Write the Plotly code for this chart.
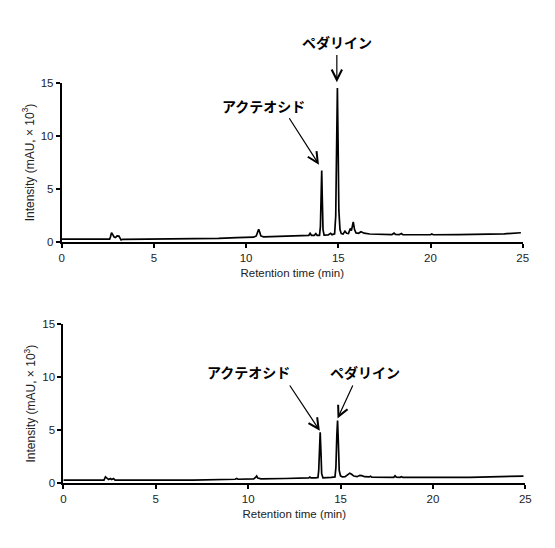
import plotly.graph_objects as go

# ---- Data ----
time_top = [0.0, 2.60, 2.65, 2.70, 2.76, 2.84, 2.92, 3.00, 3.10, 3.16, 3.22, 3.30, 5.00, 7.00, 8.50,
            9.50, 10.40, 10.55, 10.62, 10.68, 10.74, 10.80, 10.95, 12.00, 13.00, 13.40, 13.47,
            13.54, 13.70, 13.78, 13.85, 13.98, 14.03, 14.07, 14.10, 14.13, 14.17, 14.23, 14.45,
            14.58, 14.66, 14.80, 14.86, 14.90, 14.95, 14.99, 15.03, 15.09, 15.16, 15.26, 15.36,
            15.45, 15.55, 15.65, 15.71, 15.81, 15.88, 15.96, 16.10, 16.23, 16.40, 16.70, 17.20,
            17.90, 18.02, 18.10, 18.30, 18.42, 18.50, 19.00, 20.00, 20.07, 20.15, 21.50, 23.00,
            24.00, 24.90]
intensity_top = [0.30, 0.30, 0.55, 0.90, 0.75, 0.50, 0.45, 0.60, 0.58, 0.30, 0.22, 0.28, 0.30, 0.32, 0.38,
                 0.44, 0.48, 0.60, 1.00, 1.22, 0.95, 0.60, 0.52, 0.58, 0.64, 0.66, 0.85,
                 0.66, 0.66, 0.82, 0.66, 0.66, 1.50, 4.50, 6.75, 4.20, 1.20, 0.68, 0.70,
                 0.85, 0.72, 0.80, 2.50, 8.00, 14.50, 9.00, 3.00, 1.20, 0.82, 0.78, 1.05,
                 0.85, 0.82, 1.30, 1.10, 1.92, 1.20, 0.88, 0.85, 1.00, 0.86, 0.78, 0.74,
                 0.72, 0.86, 0.74, 0.72, 0.82, 0.72, 0.71, 0.71, 0.78, 0.71, 0.73, 0.77,
                 0.80, 0.90]

time_bottom = [0.0, 2.20, 2.28, 2.36, 2.45, 2.55, 2.62, 2.72, 2.80, 5.00, 7.00, 9.30, 9.38, 9.46,
               10.30, 10.40, 10.46, 10.52, 10.70, 12.00, 12.80, 13.28, 13.34, 13.40, 13.65, 13.78,
               13.82, 13.86, 13.90, 13.94, 13.98, 14.05, 14.35, 14.50, 14.70, 14.75, 14.80, 14.84,
               14.88, 14.93, 15.00, 15.10, 15.25, 15.40, 15.50, 15.60, 15.72, 15.90, 16.05, 16.15,
               16.30, 16.55, 16.62, 16.70, 17.50, 17.88, 17.95, 18.02, 18.22, 18.30, 18.38, 20.00,
               20.08, 20.15, 22.00, 23.50, 24.90]
intensity_bottom = [0.30, 0.30, 0.60, 0.50, 0.35, 0.45, 0.35, 0.45, 0.30, 0.30, 0.30, 0.38, 0.45, 0.38,
                    0.42, 0.55, 0.68, 0.50, 0.42, 0.45, 0.48, 0.50, 0.58, 0.50, 0.50, 0.55,
                    1.20, 3.50, 4.80, 3.00, 0.90, 0.52, 0.50, 0.55, 0.60, 1.50, 4.50, 5.90,
                    4.00, 1.20, 0.70, 0.60, 0.62, 0.85, 0.95, 0.85, 0.68, 0.62, 0.75, 0.72,
                    0.62, 0.60, 0.66, 0.58, 0.56, 0.56, 0.70, 0.58, 0.56, 0.62, 0.55, 0.56,
                    0.62, 0.56, 0.56, 0.60, 0.68]

x_ticks = [0, 5, 10, 15, 20, 25]
y_ticks = [0, 5, 10, 15]
label_acteoside = "アクテオシド"
label_pedaliin = "ペダリイン"
x_title = "Retention time (min)"
y_title = "Intensity (mAU, × 10<sup>3</sup>)"

Y_MAX = 15
X_MAX = 25

# ---- Figure ----
fig = go.Figure()
fig.add_trace(go.Scatter(x=time_top, y=intensity_top, mode="lines",
                         line=dict(color="black", width=1.7), xaxis="x", yaxis="y",
                         showlegend=False, hoverinfo="skip"))
fig.add_trace(go.Scatter(x=time_bottom, y=intensity_bottom, mode="lines",
                         line=dict(color="black", width=1.7), xaxis="x2", yaxis="y2",
                         showlegend=False, hoverinfo="skip"))

tickfont = dict(family="Liberation Sans, Arial, sans-serif", size=11.5, color="#222")
xtitlefont = dict(family="Liberation Sans, Arial, sans-serif", size=11.5, color="#222")
ytitlefont = dict(family="Liberation Sans, Arial, sans-serif", size=12, color="#222")

def xaxis(domain, anchor):
    return dict(domain=domain, anchor=anchor, range=[0, X_MAX], tickvals=x_ticks,
                showline=True, linecolor="black", linewidth=1.8, ticks="outside",
                ticklen=4, tickwidth=1.5, tickcolor="black", showgrid=False, zeroline=False,
                automargin=False,
                tickfont=tickfont, title=dict(text=x_title, font=xtitlefont, standoff=6))

def yaxis(domain, anchor):
    return dict(domain=domain, anchor=anchor, range=[0, Y_MAX], tickvals=y_ticks,
                showline=True, linecolor="black", linewidth=1.8, ticks="outside",
                ticklen=4, tickwidth=1.5, tickcolor="black", showgrid=False, zeroline=False,
                automargin=False,
                tickfont=tickfont, title=dict(text=y_title, font=ytitlefont, standoff=4))

jp_font = dict(family="Noto Sans CJK JP", size=14, color="black")
arrow_common = dict(showarrow=True, arrowhead=5, arrowsize=1.7, arrowwidth=1.2,
                    arrowcolor="black", text="", standoff=0, startstandoff=0,
                    xanchor="center", yanchor="middle")
label_common = dict(showarrow=False, font=jp_font, xanchor="center", yanchor="middle")

def dom(v, vmax):
    # data value -> axis-domain fraction (lets labels sit above the plotted range)
    return v / vmax

annotations = [
    # top panel
    dict(x=dom(14.93, X_MAX), y=dom(18.8, Y_MAX), xref="x domain", yref="y domain",
         text="<b>" + label_pedaliin + "</b>", **label_common),
    dict(x=dom(14.92, X_MAX), y=dom(15.05, Y_MAX), ax=dom(14.92, X_MAX), ay=dom(17.75, Y_MAX),
         xref="x domain", yref="y domain", axref="x domain", ayref="y domain", **arrow_common),
    dict(x=10.92, y=12.78, xref="x", yref="y", text="<b>" + label_acteoside + "</b>",
         **label_common),
    dict(x=13.95, y=7.3, ax=12.29, ay=11.8, xref="x", yref="y", axref="x", ayref="y",
         **arrow_common),
    # bottom panel
    dict(x=10.0, y=10.48, xref="x2", yref="y2", text="<b>" + label_acteoside + "</b>",
         **label_common),
    dict(x=13.88, y=4.95, ax=12.2, ay=9.35, xref="x2", yref="y2", axref="x2", ayref="y2",
         **arrow_common),
    dict(x=16.3, y=10.48, xref="x2", yref="y2", text="<b>" + label_pedaliin + "</b>",
         **label_common),
    dict(x=14.84, y=6.1, ax=15.7, ay=9.35, xref="x2", yref="y2", axref="x2", ayref="y2",
         **arrow_common),
]

# the page body adds an 8px offset; domains are set to compensate
fig.update_layout(
    width=555, height=548,
    margin=dict(l=0, r=0, t=0, b=0, autoexpand=False),
    paper_bgcolor="white", plot_bgcolor="white",
    xaxis=xaxis([0.0968, 0.9274], "y"),
    yaxis=yaxis([0.5724, 0.8637], "x"),
    xaxis2=xaxis([0.0997, 0.9321], "y2"),
    yaxis2=yaxis([0.1327, 0.4234], "x2"),
    annotations=annotations,
)

fig.write_html("out.html")
